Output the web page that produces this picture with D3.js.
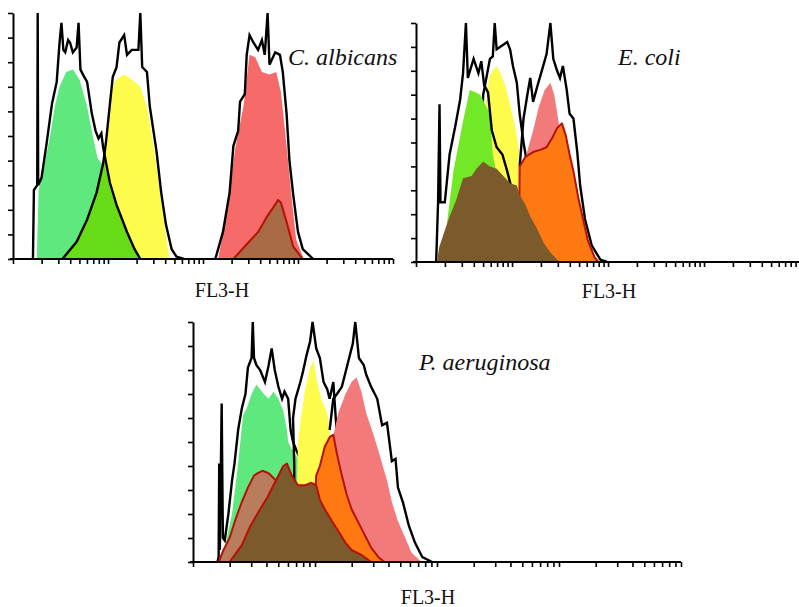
<!DOCTYPE html>
<html>
<head>
<meta charset="utf-8">
<script src="https://cdn.jsdelivr.net/npm/d3@7/dist/d3.min.js"></script>
<style>
  body { margin: 0; background: #fff; }
  svg { display: block; }
  .lbl { font-family: "Liberation Serif", "Times New Roman", serif; fill: #111; }
</style>
</head>
<body>
<svg id="chart" width="799" height="607"></svg>
<script>
// every point is [log10(FL3-H), events as % of the y axis height]

// C. albicans
const albicansMintFill = [[.25,0],[.27,28],[.33,38],[.39,50],[.44,62],[.49,70],[.56,76],[.63,77],[.70,73],[.78,62],[.84,50],[.89,41],[.93,39],[.96,40],[1.02,29],[1.09,21],[1.20,10],[1.27,4],[1.33,0]];
const albicansMintLine = [[.21,0],[.22,28],[.255,30],[.26,100],[.265,30],[.30,33],[.35,46],[.41,63],[.46,72],[.49,88],[.51,96],[.53,85],[.55,84],[.58,89],[.60,88],[.63,84],[.67,86],[.69,96],[.71,77],[.75,74],[.78,72],[.83,59],[.87,52],[.90,49],[.93,51],[.95,45],[1.02,31],[1.09,22],[1.20,11],[1.28,4],[1.34,0]];
const albicansYellowFill = [[.53,0],[.67,7],[.78,16],[.88,27],[.95,38],[.98,46],[1.02,63],[1.05,71],[1.09,73],[1.17,75],[1.25,73],[1.34,70],[1.41,62],[1.48,46],[1.55,27],[1.61,9],[1.65,0]];
const albicansYellowLine = [[.52,0],[.67,7],[.78,16],[.88,27],[.95,39],[.98,48],[1.02,63],[1.05,74],[1.09,78],[1.12,88],[1.17,91],[1.20,83],[1.25,85],[1.32,85],[1.34,100],[1.36,78],[1.41,76],[1.44,62],[1.51,44],[1.56,27],[1.61,14],[1.67,4],[1.72,1],[1.80,0]];
const albicansRedFill = [[2.16,0],[2.25,19],[2.34,45],[2.43,63],[2.49,83],[2.55,82],[2.62,76],[2.70,75],[2.77,76],[2.82,68],[2.88,46],[2.93,26],[2.98,8],[3.06,0]];
const albicansRedLine = [[2.13,0],[2.21,11],[2.28,27],[2.32,46],[2.37,52],[2.39,64],[2.44,67],[2.46,83],[2.49,91],[2.53,88],[2.58,85],[2.62,89],[2.65,83],[2.68,100],[2.70,79],[2.76,84],[2.81,83],[2.84,76],[2.88,59],[2.91,40],[2.95,26],[3.00,11],[3.05,4],[3.16,0]];
const albicansBrownFill = [[2.32,0],[2.46,6],[2.58,11],[2.67,17],[2.74,21],[2.79,24],[2.82,23],[2.88,15],[2.95,5],[3.05,0]];

// E. coli
const coliYellowFill = [[.62,0],[.70,50],[.74,72],[.77,78],[.80,80],[.84,82],[.88,79],[.93,74],[.98,66],[1.03,57],[1.07,48],[1.10,40],[1.15,28],[1.25,10],[1.35,0]];
const coliYellowLine = [[.62,0],[.70,70],[.77,85],[.80,86],[.82,100],[.84,89],[.95,92],[.98,89],[1.01,82],[1.05,75],[1.08,62],[1.12,50],[1.15,43],[1.20,25],[1.30,8],[1.38,0]];
const coliPinkFill = [[1.10,0],[1.15,45],[1.22,55],[1.28,65],[1.34,72],[1.40,75],[1.44,70],[1.48,60],[1.52,50],[1.56,45],[1.62,32],[1.70,15],[1.80,0]];
const coliPinkLine = [[1.08,40],[1.12,60],[1.16,70],[1.19,77],[1.22,67],[1.26,73],[1.31,80],[1.36,87],[1.40,100],[1.43,85],[1.47,80],[1.50,77],[1.53,82],[1.57,72],[1.60,62],[1.64,60],[1.68,46],[1.71,32],[1.76,18],[1.83,7],[1.92,1],[1.99,0]];
const coliGreenFill = [[.26,0],[.30,9],[.39,38],[.49,59],[.56,72],[.62,71],[.67,70],[.72,66],[.77,62],[.79,50],[.80,45],[.83,39],[.90,36],[.98,25],[1.05,10],[1.12,0]];
const coliGreenLine = [[.21,0],[.23,25],[.245,66],[.255,25],[.30,25],[.35,45],[.41,57],[.46,68],[.49,79],[.52,100],[.54,77],[.60,85],[.65,79],[.68,84],[.71,74],[.75,71],[.79,55],[.84,48],[.90,45],[.95,38],[1.00,30],[1.08,12],[1.15,0]];
const coliOrangeFill = [[1.07,0],[1.08,40],[1.14,44],[1.22,46],[1.30,47],[1.36,48],[1.42,52],[1.47,56],[1.52,58],[1.56,53],[1.60,45],[1.64,38],[1.69,27],[1.74,18],[1.79,9],[1.86,2],[1.90,0]];
const coliBrownFill = [[.22,0],[.24,6],[.29,12],[.35,19],[.42,26],[.49,35],[.58,36],[.63,39],[.70,42],[.77,40],[.84,39],[.91,36],[.98,33],[1.05,32],[1.08,28],[1.14,24],[1.19,19],[1.26,14],[1.33,8],[1.40,4],[1.47,1],[1.50,0]];

// P. aeruginosa
const aeruGreenFill = [[.23,0],[.26,6],[.32,20],[.37,41],[.41,61],[.44,64],[.48,70],[.52,74],[.58,70],[.62,68],[.66,71],[.70,68],[.74,63],[.77,55],[.78,50],[.81,47],[.86,43],[.90,38],[.93,33],[1.00,20],[1.10,0]];
const aeruGreenLine = [[.20,0],[.21,2],[.215,41],[.22,5],[.235,66],[.245,10],[.26,9],[.29,20],[.32,34],[.34,41],[.37,55],[.40,64],[.43,70],[.45,81],[.48,85],[.49,100],[.50,85],[.52,82],[.55,80],[.59,75],[.62,82],[.645,89],[.67,80],[.70,73],[.73,68],[.75,71],[.78,68],[.80,55],[.82,50],[.86,45],[.90,40],[.95,30],[1.02,15],[1.10,0]];
const aeruYellowFill = [[.84,0],[.86,50],[.89,62],[.92,72],[.96,81],[.99,84],[1.01,77],[1.05,68],[1.10,62],[1.12,55],[1.14,48],[1.16,41],[1.22,25],[1.30,10],[1.38,0]];
const aeruYellowLine = [[.83,0],[.83,40],[.82,60],[.84,68],[.88,75],[.90,79],[.93,86],[.96,92],[.98,100],[1.01,89],[1.04,85],[1.07,75],[1.10,72],[1.12,68],[1.15,75],[1.17,60],[1.20,40],[1.30,15],[1.40,0]];
const aeruPinkFill = [[1.08,0],[1.14,50],[1.19,62],[1.25,70],[1.30,75],[1.34,77],[1.38,71],[1.42,62],[1.46,56],[1.51,48],[1.55,41],[1.59,34],[1.63,25],[1.68,17],[1.74,10],[1.79,4],[1.85,1],[1.88,0]];
const aeruPinkLine = [[1.12,55],[1.15,68],[1.18,70],[1.22,73],[1.27,83],[1.31,91],[1.33,100],[1.36,85],[1.40,82],[1.42,78],[1.46,73],[1.51,68],[1.55,57],[1.59,58],[1.63,42],[1.66,43],[1.68,31],[1.72,25],[1.77,15],[1.82,8],[1.88,2],[1.96,0]];
const aeruOrangeFill = [[.98,0],[1.01,36],[1.04,40],[1.08,48],[1.12,52],[1.15,53],[1.18,45],[1.22,36],[1.26,28],[1.30,22],[1.34,18],[1.38,14],[1.42,10],[1.46,6],[1.52,2],[1.57,0]];
const aeruLightBrownFill = [[.21,0],[.25,5],[.30,10],[.35,18],[.40,25],[.45,31],[.50,36],[.53,37],[.57,38],[.62,37],[.70,33],[.78,25],[.88,14],[.96,5],[1.02,0]];
const aeruBrownFill = [[.30,0],[.40,7],[.47,15],[.55,22],[.61,27],[.69,35],[.74,40],[.77,41],[.81,36],[.86,32],[.92,32],[.97,33],[1.01,32],[1.04,26],[1.08,22],[1.14,17],[1.19,13],[1.25,8],[1.30,5],[1.38,3],[1.46,0]];

// axis ticks
const decades = [1, 10, 100, 1000];
const minorSteps = [1, 2, 3, 4, 5, 6, 7, 8, 9];
const yTicks = [0, 10, 20, 30, 40, 50, 60, 70, 80, 90, 100];

const c = {
    mint: '#5ee87e', lime: '#68dc16', green: '#72e826', yellow: '#fdfb4c',
    pink: '#f66a6a', pinkLight: '#f37a7a', orange: '#ff7913',
    brown: '#7b5a2b', tan: '#a86b46', tanLight: '#b97c5c',
    black: '#000', darkRed: '#b51206'
};

const panels = [
    {
        name: 'C. albicans', x0: 13, x1: 393, yTop: 13, yBase: 259,
        title: [288, 65], axisLabel: [222, 297],
        layers: [
            { d: albicansMintFill, fill: c.mint },
            { d: albicansYellowFill, fill: c.yellow },
            { d: albicansMintFill, fill: c.lime, clip: albicansYellowFill },
            { d: albicansMintLine, stroke: c.black },
            { d: albicansYellowLine, stroke: c.black },
            { d: albicansRedFill, fill: c.pink },
            { d: albicansRedLine, stroke: c.black },
            { d: albicansBrownFill, fill: c.tan, stroke: c.darkRed }
        ]
    },
    {
        name: 'E. coli', x0: 416, x1: 800, yTop: 23, yBase: 262,
        title: [618, 65], axisLabel: [609, 298],
        layers: [
            { d: coliYellowFill, fill: c.yellow },
            { d: coliYellowLine, stroke: c.black },
            { d: coliPinkFill, fill: c.pinkLight },
            { d: coliPinkLine, stroke: c.black },
            { d: coliGreenFill, fill: c.green },
            { d: coliGreenLine, stroke: c.black },
            { d: coliOrangeFill, fill: c.orange, stroke: c.darkRed },
            { d: coliBrownFill, fill: c.brown }
        ]
    },
    {
        name: 'P. aeruginosa', x0: 193, x1: 681, yTop: 322, yBase: 562,
        title: [419, 370], axisLabel: [428, 604],
        layers: [
            { d: aeruGreenFill, fill: c.mint },
            { d: aeruGreenLine, stroke: c.black },
            { d: aeruYellowFill, fill: c.yellow },
            { d: aeruYellowLine, stroke: c.black },
            { d: aeruPinkFill, fill: c.pinkLight },
            { d: aeruPinkLine, stroke: c.black },
            { d: aeruOrangeFill, fill: c.orange, stroke: c.darkRed },
            { d: aeruLightBrownFill, fill: c.tanLight, stroke: c.darkRed },
            { d: aeruBrownFill, fill: c.brown, stroke: c.darkRed }
        ]
    }
];

const svg = d3.select('#chart');
const xTickValues = decades.flatMap(k => minorSteps.map(m => m * k)).concat([10000]);

panels.forEach((p, pi) => {
    const x = d3.scaleLog().domain([1, 10000]).range([p.x0, p.x1]);
    const y = d3.scaleLinear().domain([0, 100]).range([p.yBase, p.yTop]);
    const g = svg.append('g');

    const area = d3.area()
        .x(d => x(10 ** d[0]))
        .y0(y(0))
        .y1(d => y(d[1]));
    const line = d3.line()
        .x(d => x(10 ** d[0]))
        .y(d => y(d[1]));

    p.layers.forEach((l, li) => {
        if (l.fill) {
            const path = g.append('path')
                .attr('d', area(l.d))
                .attr('fill', l.fill)
                .attr('stroke', l.stroke || 'none')
                .attr('stroke-width', 2)
                .attr('stroke-linejoin', 'round');
            if (l.clip) {
                const id = `clip-${pi}-${li}`;
                svg.append('clipPath').attr('id', id)
                    .append('path').attr('d', area(l.clip));
                path.attr('clip-path', `url(#${id})`);
            }
        } else {
            g.append('path')
                .attr('d', line(l.d))
                .attr('fill', 'none')
                .attr('stroke', l.stroke)
                .attr('stroke-width', 2.4)
                .attr('stroke-linejoin', 'miter');
        }
    });

    const xAxis = g.append('g')
        .attr('transform', `translate(0,${p.yBase})`)
        .call(d3.axisBottom(x).tickValues(xTickValues).tickFormat('').tickSize(5).tickSizeOuter(0));
    const yAxis = g.append('g')
        .attr('transform', `translate(${p.x0},0)`)
        .call(d3.axisLeft(y).tickValues(yTicks).tickFormat('').tickSize(5).tickSizeOuter(0));
    [xAxis, yAxis].forEach(a => {
        a.select('.domain').attr('stroke', '#000').attr('stroke-width', 2);
        a.selectAll('.tick line').attr('stroke', '#000').attr('stroke-width', 1.6);
    });
    xAxis.select('.domain').attr('d', `M${p.x0 - 3},0H${p.x1}`);

    g.append('text')
        .attr('class', 'lbl')
        .attr('x', p.title[0]).attr('y', p.title[1])
        .style('font-size', '24px').style('font-style', 'italic')
        .text(p.name);

    g.append('text')
        .attr('class', 'lbl')
        .attr('x', p.axisLabel[0]).attr('y', p.axisLabel[1])
        .attr('text-anchor', 'middle')
        .style('font-size', '20px')
        .text('FL3-H');
});
</script>
</body>
</html>
